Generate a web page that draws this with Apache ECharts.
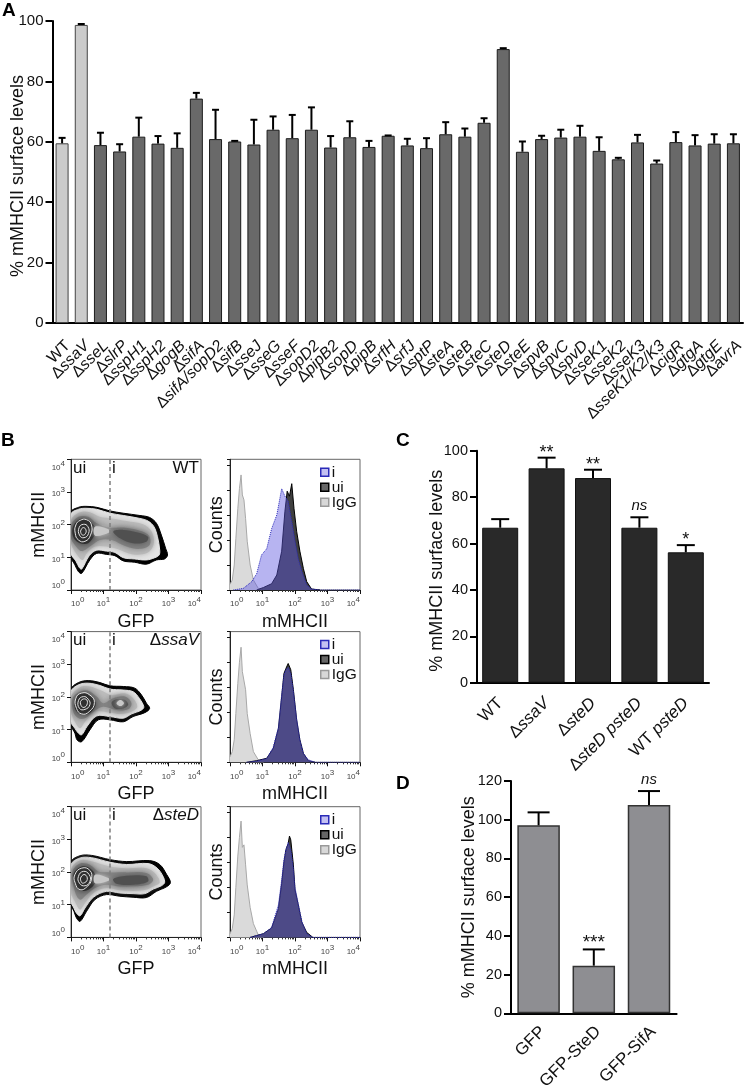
<!DOCTYPE html>
<html><head><meta charset="utf-8">
<style>html,body{margin:0;padding:0;background:#fff}#c{width:747px;height:1089px}</style>
<script src="https://cdn.jsdelivr.net/npm/echarts@6/dist/echarts.min.js"></script>
</head><body><div id="c"></div>
<script>
// ---------- Panel A ----------
const catsA = ['WT','ΔssaV','ΔsseL','ΔslrP','ΔsspH1','ΔsspH2','ΔgogB','ΔsifA','ΔsifA/sopD2','ΔsifB','ΔsseJ','ΔsseG','ΔsseF','ΔsopD2','ΔpipB2','ΔsopD','ΔpipB','ΔsrfH','ΔsrfJ','ΔsptP','ΔsteA','ΔsteB','ΔsteC','ΔsteD','ΔsteE','ΔspvB','ΔspvC','ΔspvD','ΔsseK1','ΔsseK2','ΔsseK3','ΔsseK1/K2/K3','ΔcigR','ΔgtgA','ΔgtgE','ΔavrA'];
const valsA = [59.5,98.7,58.9,56.8,61.7,59.4,58,74.3,60.9,60.1,59.1,64,61.2,64,58.1,61.5,58.3,62,58.8,57.9,62.5,61.7,66.3,90.7,56.7,60.9,61.4,61.7,57,54.2,59.8,52.8,59.9,58.8,59.4,59.5];
const errsA = [61.3,99,63,59.2,68,61.9,62.8,76.2,70.6,60.3,67.3,68.4,68.9,71.4,61.9,66.8,60.3,62.1,61,61.2,66.5,64.4,67.8,91,60.1,62,64,65.3,61.5,54.7,62.3,53.8,63.2,62.2,62.5,62.5];
const lightA = ['WT','ΔssaV'];
// ---------- Panel C ----------
const catsC = ['WT','ΔssaV','ΔsteD','ΔsteD psteD','WT psteD'];
const valsC = [66.8,92.4,88.2,66.8,56.2];
const errsC = [70.5,97,91.8,71.3,59.3];
const notesC = ['','**','**','ns','*'];
// ---------- Panel D ----------
const catsD = ['GFP','GFP-SteD','GFP-SifA'];
const valsD = [97.1,24.6,107.6];
const errsD = [103.8,33,114.8];
const notesD = ['','***','ns'];
// ---------- Panel B: gate and contours, each point [log10 GFP, log10 mMHCII] ----------
const gateGFP = 15.4;
const contourWT = [
 [[0,2.38],[.23,2.53],[.46,2.56],[.79,2.53],[1.2,2.42],[1.61,2.35],[2.12,2.28],[2.42,2.22],[2.63,2.04],[2.78,1.68],[2.91,1.28],[2.97,1.07],[2.88,.95],[2.63,.92],[2.32,.79],[1.96,.85],[1.61,.89],[1.35,1.05],[1.09,1.09],[.79,1.12],[.58,.92],[.33,.51],[.23,.56],[.12,.77],[0,1.02]],
 [[0,2.32],[.23,2.47],[.46,2.5],[.79,2.47],[1.2,2.35],[1.61,2.28],[2.12,2.19],[2.37,2.11],[2.55,1.94],[2.66,1.63],[2.73,1.22],[2.71,1.07],[2.58,.99],[2.32,.92],[1.96,.95],[1.61,.99],[1.35,1.15],[1.09,1.19],[.79,1.22],[.56,1.05],[.33,.64],[.26,.68],[.15,.89],[0,1.12]],
 [[0,2.14],[.28,2.38],[.58,2.38],[.89,2.24],[1.25,2.19],[1.71,2.11],[2.22,2.01],[2.48,1.79],[2.55,1.43],[2.37,1.15],[1.91,1.09],[1.4,1.26],[1.09,1.33],[.74,1.33],[.48,1.12],[.36,.92],[.23,1.02],[0,1.43]],
 [[0,1.99],[.23,2.24],[.53,2.24],[.79,2.04],[1.15,1.91],[1.61,1.91],[2.12,1.81],[2.4,1.66],[2.42,1.38],[2.12,1.26],[1.71,1.33],[1.25,1.53],[.89,1.53],[.58,1.33],[.33,1.19],[.12,1.38],[0,1.58]],
 [[.05,1.89],[.23,2.14],[.5,2.16],[.74,1.94],[.89,1.87],[.74,1.68],[.53,1.43],[.28,1.43],[.09,1.58]],
 [[1.3,1.79],[1.61,1.84],[2.02,1.77],[2.37,1.63],[2.32,1.48],[1.91,1.43],[1.51,1.58]],
 [[.74,1.94],[1.15,1.86],[1.17,1.76],[.74,1.66]]
];
const ringsWT = [
 [[.15,1.99],[.28,2.13],[.48,2.15],[.63,1.99],[.6,1.68],[.43,1.49],[.23,1.53],[.13,1.74]],
 [[.25,1.91],[.38,2.01],[.52,1.94],[.54,1.73],[.4,1.6],[.26,1.68]],
 [[.31,1.84],[.38,1.91],[.46,1.84],[.44,1.72],[.36,1.68],[.3,1.76]]
];
const contourSsaV = [
 [[0,2.23],[.23,2.44],[.53,2.5],[.89,2.44],[1.2,2.34],[1.61,2.32],[1.96,2.27],[2.17,2.06],[2.32,1.81],[2.42,1.65],[2.27,1.52],[1.91,1.4],[1.61,1.24],[1.2,1.3],[.84,1.3],[.58,.99],[.33,.63],[.19,.68],[.12,.89],[0,1.14]],
 [[0,2.16],[.23,2.37],[.53,2.42],[.89,2.35],[1.2,2.24],[1.61,2.21],[1.91,2.16],[2.1,1.96],[2.24,1.7],[2.17,1.6],[1.86,1.48],[1.61,1.35],[1.2,1.4],[.79,1.42],[.5,1.11],[.33,.84],[.23,.89],[.12,1.04],[0,1.24]],
 [[0,2.01],[.28,2.3],[.58,2.32],[.89,2.21],[1.25,2.06],[1.66,2.11],[1.91,1.96],[2.04,1.7],[1.86,1.55],[1.55,1.48],[1.2,1.52],[.74,1.55],[.43,1.24],[.28,1.04],[.12,1.24],[0,1.55]],
 [[.05,1.96],[.28,2.16],[.53,2.19],[.79,2.01],[.99,1.81],[1.3,1.96],[1.66,2.01],[1.86,1.81],[1.76,1.62],[1.4,1.6],[.99,1.7],[.69,1.55],[.43,1.35],[.23,1.35],[.07,1.55]],
 [[.15,1.96],[.33,2.12],[.53,2.07],[.74,1.86],[.74,1.7],[.53,1.48],[.28,1.48],[.12,1.65]],
 [[1.25,1.83],[1.4,1.93],[1.66,1.91],[1.76,1.76],[1.61,1.65],[1.35,1.65]],
 [[1.4,1.81],[1.52,1.91],[1.63,1.81],[1.52,1.72]]
];
const ringsSsaV = [
 [[.15,1.96],[.33,2.12],[.58,2.06],[.72,1.83],[.56,1.55],[.33,1.48],[.17,1.65]],
 [[.23,1.89],[.38,2.01],[.53,1.93],[.58,1.76],[.43,1.62],[.26,1.65]],
 [[.31,1.89],[.46,1.93],[.5,1.79],[.4,1.68],[.31,1.74]]
];
const contourSteD = [
 [[0,2.3],[.28,2.5],[.63,2.51],[1.2,2.38],[1.71,2.32],[2.42,2.35],[2.73,2.23],[2.94,1.93],[3.06,1.68],[2.94,1.55],[2.63,1.41],[2.32,1.22],[1.91,1.23],[1.5,1.26],[1.09,1.31],[.74,1.16],[.48,.8],[.28,.49],[.17,.59],[.09,.8],[0,1]],
 [[0,2.22],[.28,2.43],[.63,2.44],[1.2,2.3],[1.71,2.23],[2.37,2.26],[2.65,2.12],[2.83,1.87],[2.88,1.68],[2.78,1.58],[2.53,1.48],[2.27,1.34],[1.91,1.34],[1.5,1.36],[1.09,1.41],[.69,1.23],[.43,.9],[.28,.66],[.17,.74],[.09,.9],[0,1.1]],
 [[0,2.07],[.28,2.36],[.63,2.33],[1.2,2.17],[1.71,2.12],[2.32,2.12],[2.58,1.97],[2.73,1.68],[2.53,1.56],[2.22,1.44],[1.5,1.44],[1.09,1.51],[.69,1.36],[.43,1.05],[.28,.85],[.12,1.1],[0,1.36]],
 [[.05,2.02],[.28,2.26],[.58,2.22],[.84,2.02],[1.2,1.99],[1.71,1.99],[2.32,1.97],[2.53,1.77],[2.37,1.61],[1.5,1.56],[1.09,1.61],[.74,1.51],[.48,1.31],[.28,1.15],[.12,1.41]],
 [[.09,1.97],[.33,2.17],[.58,2.12],[.77,1.87],[.74,1.66],[.53,1.46],[.28,1.44],[.11,1.66]],
 [[1.3,1.79],[1.71,1.89],[2.32,1.87],[2.37,1.71],[1.91,1.61],[1.4,1.64]],
 [[.74,1.92],[1.15,1.82],[1.17,1.74],[.74,1.66]]
];
const ringsSteD = [
 [[.12,1.92],[.33,2.12],[.58,2.05],[.63,1.79],[.5,1.56],[.28,1.46],[.13,1.66]],
 [[.23,1.87],[.38,2.02],[.56,1.92],[.58,1.71],[.43,1.58],[.26,1.66]],
 [[.31,1.85],[.43,1.92],[.5,1.77],[.38,1.66],[.31,1.71]]
];
// ---------- Panel B: histograms, each point [log10 mMHCII, counts] ----------
const igGWT = [[0,4.5],[.07,8],[.13,20],[.18,41],[.24,65],[.29,81],[.34,92],[.38,76],[.43,72],[.48,57],[.53,39],[.62,20],[.72,8],[.87,1.3],[1.03,0]];
const uiWT = [[.82,0],[1.03,2],[1.28,5],[1.44,12],[1.59,31],[1.69,63],[1.76,79],[1.83,75],[1.9,85],[1.97,65],[2.05,47],[2.15,31],[2.26,17],[2.36,6.7],[2.51,.8],[2.77,0]];
const iWT = [[.1,0],[.41,1.3],[.67,6.7],[.82,13],[.97,28],[1.13,33],[1.28,49],[1.44,60],[1.59,81],[1.69,75],[1.79,71],[1.9,55],[2,39],[2.1,25],[2.21,15],[2.36,4],[2.51,.8],[2.77,0],[4,0]];
const igGSsaV = [[0,4.5],[.07,8.5],[.13,18],[.18,39],[.24,63],[.29,80],[.34,92],[.38,72.5],[.43,72.5],[.48,58],[.53,39],[.62,23],[.72,8.5],[.87,2],[1.03,0]];
const uiSsaV = [[.51,0],[.82,1.3],[1.13,3.2],[1.33,11],[1.49,27],[1.59,52.5],[1.66,71],[1.72,75],[1.79,79],[1.87,74],[1.95,58],[2.05,34],[2.15,18],[2.26,7],[2.41,1.3],[2.62,0]];
const iSsaV = [[.51,0],[.82,1],[1.13,3],[1.33,12],[1.49,28],[1.59,54],[1.66,70],[1.72,74],[1.79,76],[1.87,71],[1.95,57],[2.05,35],[2.15,18],[2.26,7],[2.41,2],[2.62,0],[4,0]];
const igGSteD = [[0,3],[.07,7],[.13,18],[.18,40],[.24,65],[.29,80],[.34,93],[.38,72],[.43,74],[.48,58],[.53,42],[.62,24],[.72,11],[.82,5],[.87,2],[1.03,0]];
const uiSteD = [[.62,0],[1.03,3],[1.28,7.5],[1.49,23],[1.59,43],[1.66,60],[1.72,70],[1.79,75],[1.83,81],[1.87,78],[1.95,58],[2,38],[2.1,26],[2.21,12],[2.36,4],[2.55,0]];
const iSteD = [[.62,0],[1.03,3],[1.28,8],[1.49,26],[1.59,46],[1.66,62],[1.72,70],[1.79,76],[1.83,73],[1.87,70],[1.95,55],[2,40],[2.1,27],[2.21,13],[2.36,3],[2.55,0],[4,0]];

// ---------- chart assembly ----------
const FONT = '"Liberation Sans", Arial, sans-serif';
const levelStyles = [
 {fill:'#000',blur:0},{fill:'#e4e4e4',blur:0},{fill:'#bcbcbc',blur:6},
 {fill:'#848484',blur:7},{fill:'#303030',blur:7},{fill:'#505050',blur:7},{fill:'#c8c8c8',blur:4}
];
const grids=[], xAxes=[], yAxes=[], series=[], legends=[];

function catLabel(v){
  if(v[0]==='Δ') return '{d|Δ}{i|'+v.slice(1)+'}';
  if(v==='WT psteD') return 'WT {i|psteD}';
  return v;
}
function barPanel(g, cats, vals, errs, notes, o){
  const idx=grids.length;
  grids.push({left:g[0],top:g[1],width:g[2],height:g[3],containLabel:false,outerBoundsMode:'none'});
  xAxes.push({gridIndex:idx,type:'category',data:cats,
    axisLine:{lineStyle:{color:'#000',width:o.axisW}},
    axisTick:{alignWithLabel:true,length:o.xTick,lineStyle:{color:'#000',width:o.axisW}},
    axisLabel:{interval:0,rotate:45,margin:o.labelMargin,padding:o.labelPad,fontFamily:FONT,fontSize:o.xFont,color:'#111',
      formatter:catLabel,
      rich:{d:{fontFamily:FONT,fontSize:o.xFont,color:'#111'},i:{fontFamily:FONT,fontSize:o.xFont,fontStyle:'italic',color:'#111'}}}});
  yAxes.push({gridIndex:idx,type:'value',min:0,max:o.max,interval:20,splitLine:{show:false},
    axisLine:{show:true,lineStyle:{color:'#000',width:o.axisW}},
    axisTick:{show:true,length:7,lineStyle:{color:'#000',width:o.axisW}},
    axisLabel:{margin:9,fontFamily:FONT,fontSize:o.yFont,color:'#111'},
    name:'% mMHCII surface levels',nameLocation:'middle',nameGap:o.nameGap,nameMoveOverlap:false,
    nameTextStyle:{fontFamily:FONT,fontSize:18,color:'#111',padding:o.namePad}});
  series.push({type:'bar',xAxisIndex:idx,yAxisIndex:idx,barWidth:o.barW,silent:true,animation:false,
    data:vals.map((v,i)=>{
      const light=o.lightCats&&o.lightCats.includes(cats[i]);
      return {value:v,itemStyle:{color:light?o.lightFill:o.fill,borderColor:light?'#444':o.border,borderWidth:o.borderW}};
    })});
  series.push({type:'custom',xAxisIndex:idx,yAxisIndex:idx,silent:true,animation:false,z:3,
    data:vals.map((v,i)=>[i,v,errs[i]]),
    renderItem:function(p,api){
      const i=api.value(0), a=api.coord([i,api.value(1)]), b=api.coord([i,api.value(2)]);
      const st={stroke:'#000',lineWidth:o.errW};
      const ch=[
        {type:'line',shape:{x1:a[0],y1:a[1],x2:b[0],y2:b[1]},style:st},
        {type:'line',shape:{x1:b[0]-o.cap/2,y1:b[1],x2:b[0]+o.cap/2,y2:b[1]},style:st}
      ];
      const n=notes&&notes[p.dataIndex];
      if(n){
        const isNs=n==='ns';
        ch.push({type:'text',style:{text:n,x:b[0],y:b[1]-(isNs?11:o.starUp),align:'center',verticalAlign:'middle',
          font:(isNs?'italic 15px ':o.starFont+'px ')+FONT,fill:'#111'}});
      }
      return {type:'group',children:ch};
    }});
}
barPanel([52.5,21,690.5,302],catsA,valsA,errsA,null,{max:100,axisW:2,xTick:6,labelMargin:26,labelPad:[0,-8,0,0],xFont:16,yFont:15,nameGap:25,namePad:[0,8,0,0],
  barW:13,fill:'#696969',lightFill:'#cbcbcb',lightCats:lightA,border:'#1c1c1c',borderW:1,errW:2,cap:7});
barPanel([477,450.7,232,232],catsC,valsC,errsC,notesC,{max:100,axisW:2,xTick:6,labelMargin:18,labelPad:[0,0,0,0],xFont:17,yFont:14.5,nameGap:31,namePad:[0,8,0,0],
  barW:36,fill:'#292929',border:'#111',borderW:1,errW:2,cap:18,starUp:5,starFont:18});
barPanel([511,781,165.6,232.3],catsD,valsD,errsD,notesD,{max:120,axisW:2,xTick:6,labelMargin:20,labelPad:[0,-6,0,0],xFont:17,yFont:14.5,nameGap:33,namePad:[0,0,0,0],
  barW:42.5,fill:'#8e8e92',border:'#333',borderW:1.5,errW:2,cap:22,starUp:7,starFont:19});

function decadeLabel(v){ return '{b|10}{s|'+Math.round(Math.log10(v))+'}'; }
const decadeRich={b:{fontFamily:FONT,fontSize:8,color:'#444',verticalAlign:'bottom',lineHeight:12},
                  s:{fontFamily:FONT,fontSize:8,color:'#444',verticalAlign:'top',lineHeight:12,padding:[0,0,4,0]}};
function logX(idx,name){
  return {gridIndex:idx,type:'log',logBase:10,min:1,max:10000,name:name,nameLocation:'middle',nameGap:23,
    nameTextStyle:{fontFamily:FONT,fontSize:18,color:'#111'},splitLine:{show:false},
    axisLine:{lineStyle:{color:'#222',width:1}},
    axisTick:{length:4,lineStyle:{color:'#111',width:1}},
    minorTick:{show:true,splitNumber:9,length:2,lineStyle:{color:'#333'}},minorSplitLine:{show:false},
    axisLabel:{margin:6,formatter:decadeLabel,rich:decadeRich,alignMinLabel:'left',alignMaxLabel:'right',showMinLabel:true,showMaxLabel:true}};
}
function densityPanel(top,contours,rings){
  const idx=grids.length;
  grids.push({left:71,top:top,width:130,height:130.7,show:true,borderColor:'#666',borderWidth:1,backgroundColor:'transparent',outerBoundsMode:'none'});
  xAxes.push(logX(idx,'GFP'));
  yAxes.push({gridIndex:idx,type:'log',logBase:10,min:1,max:10000,name:'mMHCII',nameLocation:'middle',nameGap:21,
    nameTextStyle:{fontFamily:FONT,fontSize:18,color:'#111'},splitLine:{show:false},
    axisLine:{show:true,lineStyle:{color:'#222',width:1}},axisTick:{show:true,length:4,lineStyle:{color:'#111'}},
    axisLabel:{margin:6,formatter:decadeLabel,rich:decadeRich,verticalAlignMinLabel:'bottom',verticalAlignMaxLabel:'top',showMinLabel:true,showMaxLabel:true}});
  const pt=(api,q)=>api.coord([Math.pow(10,q[0]),Math.pow(10,q[1])]);
  series.push({type:'custom',xAxisIndex:idx,yAxisIndex:idx,clip:true,silent:true,animation:false,
    data:contours.map((c,i)=>[1,1,i]),
    renderItem:function(p,api){
      const i=api.value(2), s=levelStyles[i];
      return {type:'polygon',shape:{points:contours[i].map(q=>pt(api,q)),smooth:0.35},
        style:{fill:s.fill,stroke:s.blur?null:s.fill,lineWidth:s.blur?0:1,shadowBlur:s.blur,shadowColor:s.fill}};
    },
    markLine:{silent:true,symbol:'none',animation:false,label:{show:false},
      lineStyle:{type:[4,3],color:'#808080',width:1.5},data:[{xAxis:gateGFP}]}});
  series.push({type:'custom',xAxisIndex:idx,yAxisIndex:idx,clip:true,silent:true,animation:false,z:3,
    data:rings.map((c,i)=>[1,1,i]),
    renderItem:function(p,api){
      return {type:'polygon',shape:{points:rings[api.value(2)].map(q=>pt(api,q)),smooth:0.5},
        style:{fill:null,stroke:'#e4e4e4',lineWidth:1}};
    }});
}
function histPanel(top,igG,ui,iv){
  const idx=grids.length;
  grids.push({left:230,top:top,width:130,height:130.7,show:true,borderColor:'#666',borderWidth:1,backgroundColor:'transparent',outerBoundsMode:'none'});
  xAxes.push(logX(idx,'mMHCII'));
  yAxes.push({gridIndex:idx,type:'value',min:0,max:104.5,interval:20,name:'Counts',nameLocation:'middle',nameGap:4,
    nameTextStyle:{fontFamily:FONT,fontSize:18,color:'#111'},splitLine:{show:false},
    axisLine:{show:true,lineStyle:{color:'#222',width:1}},axisTick:{show:true,length:3,lineStyle:{color:'#111'}},
    axisLabel:{show:false}});
  const mk=(name,d,fill,stroke,type,z)=>({type:'line',name:name,xAxisIndex:idx,yAxisIndex:idx,silent:true,animation:false,showSymbol:false,
    z:z,data:d.map(q=>[Math.pow(10,q[0]),q[1]]),lineStyle:{color:stroke,width:1,type:type},
    itemStyle:{color:stroke},areaStyle:{color:fill,opacity:1}});
  series.push(mk('IgG',igG,'#dadada','#a8a8a8','solid',2));
  series.push(mk('ui',ui,'#3f3f3f','#000','solid',3));
  series.push(mk('i',iv,'rgba(95,88,225,0.45)','#2a2ab8','dotted',4));
  legends.push({left:315,top:top,orient:'vertical',itemWidth:8,itemHeight:8,itemGap:-1,selectedMode:false,
    textStyle:{fontFamily:FONT,fontSize:15.5,color:'#111',padding:[0,0,0,-2]},
    data:[
     {name:'i',icon:'rect',itemStyle:{color:'#c3c0f2',borderColor:'#2a2ab8',borderWidth:1.5}},
     {name:'ui',icon:'rect',itemStyle:{color:'#666',borderColor:'#000',borderWidth:1.5}},
     {name:'IgG',icon:'rect',itemStyle:{color:'#d8d8d8',borderColor:'#999',borderWidth:1.5}}]});
}
const rowTops=[459.3,631.6,806.7];
densityPanel(rowTops[0],contourWT,ringsWT);    histPanel(rowTops[0],igGWT,uiWT,iWT);
densityPanel(rowTops[1],contourSsaV,ringsSsaV); histPanel(rowTops[1],igGSsaV,uiSsaV,iSsaV);
densityPanel(rowTops[2],contourSteD,ringsSteD); histPanel(rowTops[2],igGSteD,uiSteD,iSteD);

const txt=(text,x,y,size,extra)=>Object.assign({type:'text',x:x,y:y,silent:true,z:50,
  style:Object.assign({text:text,fontFamily:FONT,fontSize:size,fill:'#111',textVerticalAlign:'middle',verticalAlign:'middle'},extra||{})});
const bold={fontWeight:'bold',fill:'#000'};
const gfx=[
  txt('A',2,10.5,19,bold),txt('B',1,441,19,bold),txt('C',396,441,19,bold),txt('D',396,784,19,bold)
];
const genotype=[['WT',false],['ΔssaV',true],['ΔsteD',true]];
rowTops.forEach((t,r)=>{
  gfx.push(txt('ui',73,t+9,17));
  gfx.push(txt('i',112,t+9,17));
  const g=genotype[r];
  gfx.push({type:'text',x:199,y:t+9,silent:true,z:50,style:{
    text:g[1]?'{d|Δ}{i|'+g[0].slice(1)+'}':g[0],align:'right',verticalAlign:'middle',
    fontFamily:FONT,fontSize:17,fill:'#111',
    rich:{d:{fontFamily:FONT,fontSize:17,fill:'#111'},i:{fontFamily:FONT,fontSize:17,fontStyle:'italic',fill:'#111'}}}});
});

const chart=echarts.init(document.getElementById('c'),null,{renderer:'canvas'});
chart.setOption({animation:false,backgroundColor:'#fff',grid:grids,xAxis:xAxes,yAxis:yAxes,series:series,legend:legends,graphic:gfx});
</script></body></html>
